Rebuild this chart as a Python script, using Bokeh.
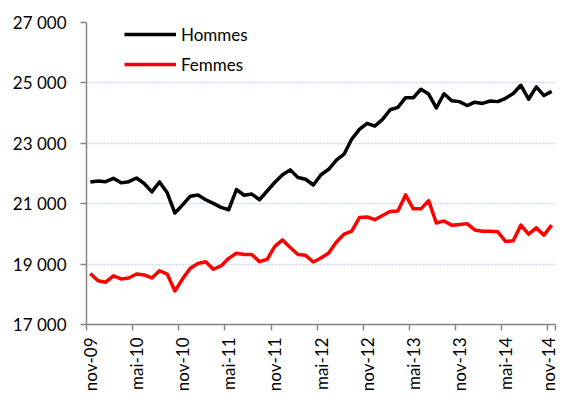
import numpy as np
from bokeh.plotting import figure
from bokeh.models import FixedTicker, LinearAxis, Range1d, Legend, LegendItem
from bokeh.embed import file_html
from bokeh.resources import INLINE

# Monthly values, nov-09 .. nov-14
hommes = [21720, 21750, 21730, 21840, 21690, 21730, 21850, 21670, 21390, 21720,
          21360, 20690, 20960, 21250, 21290, 21130, 21010, 20880, 20800, 21470,
          21280, 21320, 21130, 21420, 21710, 21960, 22120, 21870, 21810, 21620,
          21960, 22140, 22440, 22640, 23140, 23460, 23660, 23570, 23790, 24110,
          24190, 24510, 24510, 24790, 24630, 24170, 24640, 24410, 24380, 24250,
          24360, 24320, 24400, 24380, 24490, 24650, 24920, 24460, 24870, 24580,
          24720]
femmes = [18690, 18450, 18400, 18610, 18510, 18540, 18670, 18640, 18540, 18780,
          18670, 18110, 18510, 18860, 19020, 19080, 18830, 18940, 19190, 19360,
          19320, 19320, 19080, 19160, 19590, 19800, 19550, 19320, 19290, 19070,
          19200, 19370, 19730, 19990, 20090, 20540, 20560, 20470, 20610, 20740,
          20760, 21290, 20830, 20830, 21100, 20360, 20430, 20290, 20310, 20340,
          20130, 20090, 20090, 20070, 19750, 19770, 20290, 19990, 20200, 19960,
          20290]
x_tick_labels = ["nov-09", "mai-10", "nov-10", "mai-11", "nov-11", "mai-12",
                 "nov-12", "mai-13", "nov-13", "mai-14", "nov-14"]
y_ticks = [17000, 19000, 21000, 23000, 25000, 27000]
y_tick_labels = ["17 000", "19 000", "21 000", "23 000", "25 000", "27 000"]

months = list(range(len(hommes)))
label_pos = [6 * k for k in range(len(x_tick_labels))]
tick_pos = [6 * k - 0.5 for k in range(len(x_tick_labels))] + [len(hommes) - 0.5]

FONT = "Lato"
FS = "17px"
AX = "#868686"

p = figure(width=558, height=394, output_backend="svg", toolbar_location=None,
           x_range=Range1d(-0.5, len(hommes) - 0.5), y_range=Range1d(17000, 27000),
           min_border_left=86, min_border_right=3, min_border_top=22,
           min_border_bottom=67)
p.outline_line_color = None
p.xgrid.visible = False
p.ygrid.ticker = FixedTicker(ticks=y_ticks)
p.ygrid.grid_line_color = "#9fb8e4"
p.ygrid.grid_line_dash = "1 2"
p.ygrid.grid_line_width = 1.5

ya = p.yaxis[0]
ya.ticker = FixedTicker(ticks=y_ticks)
ya.major_label_overrides = dict(zip(y_ticks, y_tick_labels))
ya.minor_tick_line_color = None
ya.major_tick_out = 6
ya.major_tick_in = 0
ya.axis_line_color = AX
ya.axis_line_width = 1.5
ya.major_tick_line_color = AX
ya.major_tick_line_width = 1.5
ya.major_label_standoff = 14
ya.major_label_text_font = FONT
ya.major_label_text_font_size = FS
ya.major_label_text_color = "#000000"

xa = p.xaxis[0]
xa.ticker = FixedTicker(ticks=tick_pos)
xa.major_label_overrides = {t: "" for t in tick_pos}
xa.major_label_text_font_size = "0px"
xa.major_label_standoff = 0
xa.minor_tick_line_color = None
xa.major_tick_out = 6
xa.major_tick_in = 0
xa.axis_line_color = AX
xa.axis_line_width = 1.5
xa.major_tick_line_color = AX
xa.major_tick_line_width = 1.5

xl = LinearAxis(ticker=FixedTicker(ticks=label_pos),
                major_label_overrides=dict(zip(label_pos, x_tick_labels)),
                major_label_orientation=np.pi / 2,
                axis_line_color=None, major_tick_line_color=None,
                minor_tick_line_color=None, major_tick_out=0, major_tick_in=0,
                major_label_standoff=7, major_label_text_font=FONT,
                major_label_text_font_size=FS, major_label_text_color="#000000")
p.add_layout(xl, "below")

r1 = p.line(months, hommes, line_color="#000000", line_width=3.5, line_join="round")
r2 = p.line(months, femmes, line_color="#ff0000", line_width=3.5, line_join="round")

legend = Legend(items=[LegendItem(label="Hommes", renderers=[r1]),
                       LegendItem(label="Femmes", renderers=[r2])],
                location=(38, 249), border_line_color=None, background_fill_alpha=0,
                padding=0, margin=0, glyph_width=52, glyph_height=22,
                label_height=22, spacing=8, label_standoff=5,
                label_text_font=FONT, label_text_font_size=FS,
                label_text_color="#000000")
p.add_layout(legend)

open("out.html", "w").write(file_html(p, INLINE))
